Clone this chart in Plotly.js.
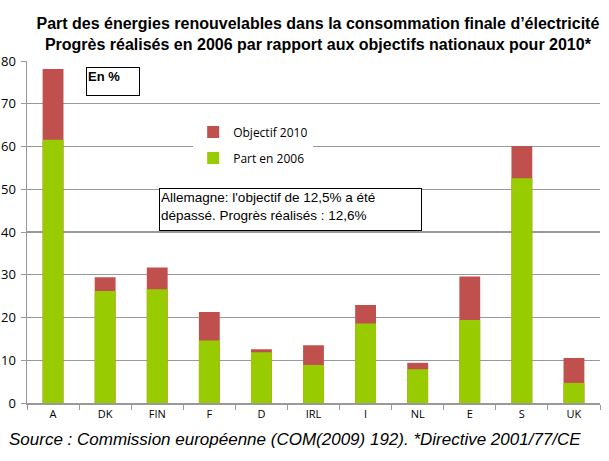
<!DOCTYPE html>
<html>
<head>
<meta charset="utf-8">
<script src="https://cdn.plot.ly/plotly-3.0.1.min.js"></script>
<style>html,body{margin:0;padding:0;background:#fff;}#chart{width:609px;height:461px;}</style>
</head>
<body>
<div id="chart"></div>
<script>
const countries = ["A", "DK", "FIN", "F", "D", "IRL", "I", "NL", "E", "S", "UK"];
const objectif2010 = [78.1, 29.4, 31.7, 21.3, 12.6, 13.5, 22.9, 9.4, 29.6, 60.1, 10.5];
const part2006 = [61.6, 26.2, 26.6, 14.6, 11.9, 8.9, 18.6, 7.9, 19.4, 52.6, 4.7];
const yTicks = [0, 10, 20, 30, 40, 50, 60, 70, 80];

const traces = [
  {type: "bar", name: "Objectif 2010", x: countries, y: objectif2010, legendgroup: "obj",
   marker: {color: "#C0504D"}, width: 0.4, hoverinfo: "y"},
  {type: "bar", name: "Part en 2006", x: countries, y: part2006, legendgroup: "part",
   marker: {color: "#99CC00"}, width: 0.4, hoverinfo: "y"}
];

const layout = {
  width: 609, height: 461,
  margin: {l: 27, r: 9, t: 61, b: 58},
  paper_bgcolor: "#fff", plot_bgcolor: "#fff",
  barmode: "overlay",
  font: {family: "Liberation Sans, Arial, sans-serif", color: "#000"},
  title: {
    text: "<b>Part des énergies renouvelables dans la consommation finale d’électricité<br>Progrès réalisés en 2006 par rapport aux objectifs nationaux pour 2010*</b>",
    font: {family: "Liberation Sans, Arial, sans-serif", size: 16, color: "#000"},
    x: 0.522, xanchor: "center", yref: "container", y: 0.937, yanchor: "middle"
  },
  xaxis: {
    type: "category",
    showline: true, linecolor: "#999", linewidth: 1.5,
    ticks: "outside", tickson: "boundaries", ticklen: 5, tickcolor: "#999",
    showgrid: false,
    tickfont: {family: "Open Sans, DejaVu Sans, sans-serif", size: 11, color: "#000"},
    range: [-0.5, 10.5]
  },
  yaxis: {
    range: [0, 80], tickvals: yTicks,
    showline: true, linecolor: "#999", linewidth: 1.5,
    ticks: "outside", ticklen: 5, tickcolor: "#999",
    showgrid: true, gridcolor: "#999", gridwidth: 1.2,
    zeroline: false,
    tickfont: {family: "Open Sans, DejaVu Sans, sans-serif", size: 13, color: "#000"},
    ticklabelstandoff: 2
  },
  showlegend: true,
  legend: {
    x: 0.29, y: 0.835, xanchor: "left", yanchor: "top",
    bgcolor: "#fff", borderwidth: 0,
    font: {family: "Open Sans, DejaVu Sans, sans-serif", size: 12, color: "#000"},
    traceorder: "grouped", tracegroupgap: 7,
    itemwidth: 30
  },
  annotations: [
    {xref: "paper", yref: "paper", x: 0.103, y: 0.982, xanchor: "left", yanchor: "top",
     text: "<b>En %</b>", showarrow: false, align: "left", valign: "top",
     width: 50, height: 25, bordercolor: "#000", borderwidth: 1, bgcolor: "#fff",
     font: {family: "Liberation Sans, Arial, sans-serif", size: 13, color: "#000"}},
    {xref: "paper", yref: "paper", x: 0.230, y: 0.629, xanchor: "left", yanchor: "top",
     text: "Allemagne: l'objectif de 12,5% a été<br>dépassé. Progrès réalisés : 12,6%",
     showarrow: false, align: "left", valign: "top",
     width: 259, height: 39, bordercolor: "#000", borderwidth: 1, bgcolor: "#fff",
     font: {family: "Liberation Sans, Arial, sans-serif", size: 13.5, color: "#000"}},
    {xref: "paper", yref: "paper", x: -0.035, y: -0.108, xanchor: "left", yanchor: "middle",
     text: "<i>Source : Commission européenne (COM(2009) 192). *Directive 2001/77/CE</i>",
     showarrow: false, align: "left",
     font: {family: "Liberation Sans, Arial, sans-serif", size: 17, color: "#000"}}
  ]
};

Plotly.newPlot("chart", traces, layout, {displayModeBar: false, staticPlot: true});
</script>
</body>
</html>
